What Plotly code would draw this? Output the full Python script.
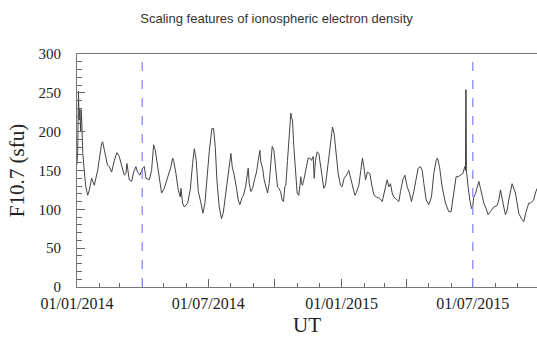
import pandas as pd
import plotly.graph_objects as go

# Days since 2014-01-01 and F10.7 values (sfu)
day_offset = [
    0, 1, 2, 3, 4, 5, 6, 7, 8, 10, 12, 14.7, 17, 20.2, 23.9, 28.5, 34, 35.4, 40, 41.3, 42,
    44.6, 47.8, 51.5, 55.1, 58.3, 62, 65.2, 67.5, 68.9, 72.1, 75.4, 78.1, 81.3, 83.6, 86.8,
    90.5, 92.8, 95.1, 99.7, 102.9, 105.7, 108, 111.2, 114.4, 116.7, 120.4, 123.1, 126.4,
    129.6, 131.9, 133.3, 136.5, 139.7, 142.5, 143.4, 145.7, 148, 152.6, 156.2, 159.5, 161.8,
    164.5, 167.3, 171, 173.7, 176.5, 179.2, 182.4, 186.1, 188.4, 190.7, 193, 196.2, 199.4,
    201.7, 205.4, 208.6, 212.3, 214.1, 216.9, 220.1, 222.4, 224.7, 227.9, 229.7, 232.5,
    236.2, 237.6, 239.9, 242.2, 245.4, 247.7, 250, 252.3, 253.6, 256, 258.2, 261.5, 262.8,
    265.1, 267.4, 269.3, 271.6, 273.9, 276.6, 278.5, 280.8, 283.1, 284.9, 286.7, 288.1,
    290.4, 292.7, 295, 295.9, 297.3, 299.1, 301.4, 303.7, 306, 307.4, 308.8, 309.7, 311.1,
    312.9, 315.7, 318.9, 321.2, 323.5, 325.8, 327.2, 329, 331.3, 333.6, 337.3, 340.5, 342.8,
    344.2, 346.5, 349.7, 352.5, 354.7, 357.1, 360.3, 363.5, 365.8, 368.5, 371.8, 375, 378.7,
    381, 383.3, 385.5, 388.8, 391.5, 393.8, 395.7, 398, 400.7, 404, 407.1, 409.9, 413.1,
    417.7, 421, 425.6, 427.9, 430.2, 432.5, 434.8, 437.1, 441.7, 444, 446.3, 449.5, 452.3,
    455.5, 458.7, 461.4, 464.7, 467.9, 470.6, 473.9, 476.2, 478.5, 481.7, 485.3, 489, 492.2,
    495.5, 497.3, 500.1, 503.7, 508.3, 512.9, 516.1, 518.4, 521.2, 523, 525.8, 529, 532.2,
    535, 535.9, 536.3, 536.8, 537.2, 538.2, 539.6, 541.9, 544.2, 546, 547.4, 549.7, 552,
    554.3, 556.6, 558.9, 561.2, 564.4, 567.2, 570.4, 575, 579.6, 581.9, 584.2, 586.5, 588.8,
    591.1, 593.4, 595.6, 597.9, 600.2, 602.5, 604.8, 607.1, 609.4, 613.1, 616.3, 619.5,
    623.2, 625.5, 627.8, 630.1, 632.4, 634.7,
]
f107 = [
    158, 175, 252, 215, 230, 200, 228, 198, 172, 150, 130, 118, 125, 140, 131, 150, 185, 187, 168, 163, 157,
    155, 148, 163, 173, 168, 155, 144, 146, 159, 138, 136, 148, 155, 148, 144,
    153, 155, 140, 138, 150, 183, 176, 155, 138, 121, 127, 136, 144,
    155, 166, 163, 146, 125, 116, 127, 108, 103, 108, 125, 159, 178,
    163, 123, 108, 95, 108, 142, 174, 204, 204, 181, 138, 103, 88,
    95, 121, 146, 172, 155, 144, 127, 112, 106, 116, 118, 129,
    153, 133, 123, 127, 140, 148, 163, 176, 161, 153, 138, 123, 121,
    133, 163, 181, 176, 155, 129, 127, 123, 112, 110, 129, 131,
    163, 194, 224, 218, 215, 181, 150, 121, 118, 127, 142, 133, 131,
    138, 150, 166, 166, 163, 168, 140, 163, 174, 172, 150, 127, 131,
    142, 163, 189, 206, 198, 176, 146, 131, 129, 140, 144, 150, 135,
    127, 118, 122, 131, 150, 166, 155, 138, 148, 146, 129, 118, 116,
    114, 110, 127, 138, 129, 133, 121, 116, 112, 110, 123, 138, 144,
    129, 121, 110, 123, 138, 153, 155, 150, 133, 112, 106, 116, 146,
    163, 166, 155, 129, 108, 97, 97, 112, 133, 142, 142, 144, 146,
    155, 150, 254, 254, 150, 138, 129, 112, 101, 105, 116, 120, 129,
    136, 127, 116, 108, 101, 93, 97, 103, 105, 112, 125, 116, 103,
    93, 99, 112, 125, 133, 127, 121, 108, 95, 88, 84, 97,
    108, 108, 110, 112, 121, 127,
]

start_date = "2014-01-01"
end_date = "2015-09-27 14:00"
marker_dates = ["2014-04-01", "2015-07-01"]
tick_dates = ["2014-01-01", "2014-04-01", "2014-07-01", "2014-10-01",
              "2015-01-01", "2015-04-01", "2015-07-01"]
tick_labels = ["01/01/2014", "", "01/07/2014", "", "01/01/2015", "", "01/07/2015"]

dates = pd.Timestamp(start_date) + pd.to_timedelta(day_offset, unit="D")

fig = go.Figure()
fig.add_trace(go.Scatter(x=dates, y=f107, mode="lines",
                         line=dict(color="#444444", width=1.0), showlegend=False))

for d in marker_dates:
    fig.add_shape(type="line", x0=d, x1=d, xref="x", y0=0, y1=1, yref="paper",
                  line=dict(color="#8a8aff", width=1.3, dash="dash"))

serif = "Liberation Serif"
fig.update_layout(
    width=537, height=341,
    margin=dict(l=77, r=0, t=54, b=54),
    paper_bgcolor="white", plot_bgcolor="white",
    title=dict(text="Scaling features of ionospheric electron density",
               x=0.515, xanchor="center", y=0.947, yanchor="middle",
               font=dict(family="Liberation Sans", size=13, color="#333")),
    xaxis=dict(
        type="date", range=[start_date, end_date],
        tickmode="array", tickvals=tick_dates, ticktext=tick_labels,
        ticks="inside", ticklen=8, tickcolor="#666", tickwidth=1,
        minor=dict(dtick="M1", tick0="2014-01-01", ticks="inside", ticklen=4,
                   tickcolor="#666", tickwidth=1, showgrid=False),
        showline=True, linecolor="#777", linewidth=1, mirror=True,
        showgrid=False, zeroline=False,
        ticklabelstandoff=2,
        tickfont=dict(family=serif, size=16, color="#222"),
        title=dict(text="UT", font=dict(family=serif, size=21, color="#222"), standoff=6),
    ),
    yaxis=dict(
        range=[0, 300], dtick=50, tick0=0,
        ticks="inside", ticklen=8, tickcolor="#666", tickwidth=1,
        minor=dict(dtick=10, ticks="inside", ticklen=5, tickcolor="#666",
                   tickwidth=1, showgrid=False),
        showline=True, linecolor="#777", linewidth=1, mirror=False,
        showgrid=False, zeroline=False,
        ticklabelstandoff=12,
        tickfont=dict(family=serif, size=15, color="#222"),
        title=dict(text="F10.7 (sfu)", font=dict(family=serif, size=21, color="#222"), standoff=8),
    ),
)

fig.write_html("out.html")
